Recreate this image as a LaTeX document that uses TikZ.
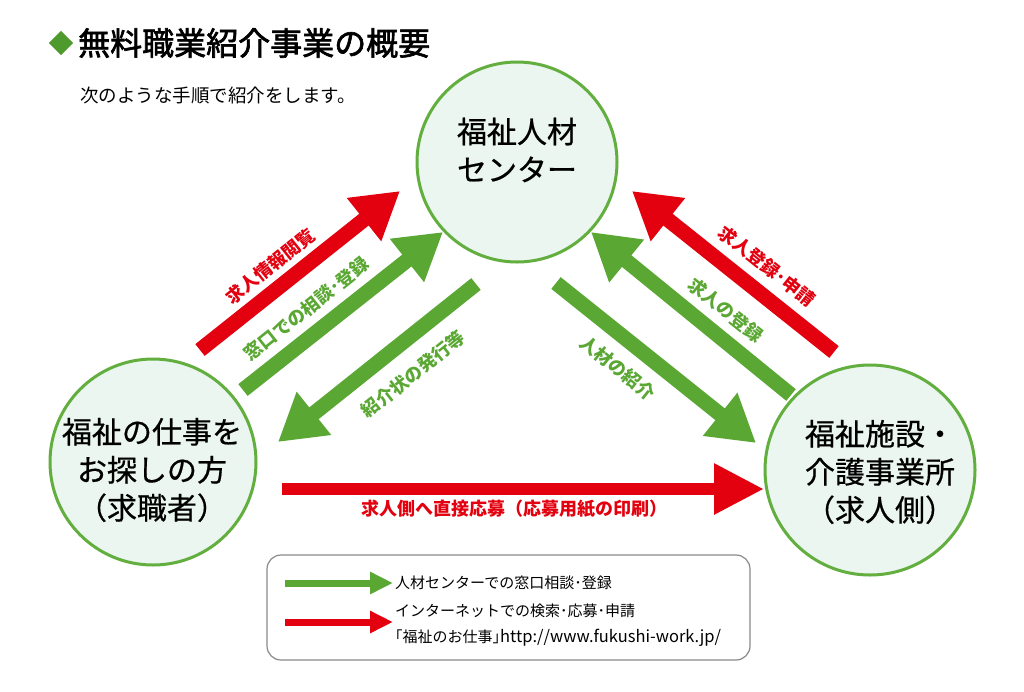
\documentclass[tikz,border=0pt]{standalone}
\usepackage{fontspec}
\setmainfont{Noto Sans CJK JP}
\newfontfamily\medfont[FakeBold=0.6]{Noto Sans CJK JP}
\newfontfamily\heavyfont[FakeBold=2]{Noto Sans CJK JP}
\usetikzlibrary{arrows.meta}
\definecolor{agreen}{HTML}{5AA833}
\definecolor{ared}{HTML}{E3000F}
\definecolor{cgreen}{HTML}{62AE3E}
\definecolor{cfill}{HTML}{EAF6EF}
\definecolor{dgreen}{HTML}{4E9A2C}
\definecolor{lgray}{HTML}{8A8A8A}
\tikzset{
  hub/.style={circle, draw=cgreen, fill=cfill, line width=3pt, minimum size=#1, inner sep=0pt},
  hubtext/.style={align=center, font=\medfont\fontsize{30pt}{38pt}\selectfont, text=black},
  bigarrow/.style={line width=15pt, -{Triangle[width=52pt,length=46pt]}},
  flatarrow/.style={line width=12pt, -{Triangle[width=48pt,length=50pt]}},
  legarrow/.style={line width=7pt, -{Triangle[width=21pt,length=23pt]}},
  lbl/.style={font=\fontsize{18pt}{20pt}\selectfont\bfseries, inner sep=0pt},
  legtext/.style={font=\fontsize{15pt}{26pt}\selectfont, anchor=west, align=left, inner sep=0pt}
}
\begin{document}
\begin{tikzpicture}[x=1pt,y=-1pt]
\useasboundingbox (0,0) rectangle (1024,691);
\fill[white] (0,0) rectangle (1024,691);

% title
\node[fill=dgreen, rotate=45, minimum size=17pt, inner sep=0pt] (dia) at (61,43) {};
\node[anchor=west, font=\heavyfont\fontsize{32pt}{36pt}\selectfont, inner sep=0pt] (title) at (78,43) {無料職業紹介事業の概要};
\node[anchor=west, font=\fontsize{18.5pt}{22pt}\selectfont, inner sep=0pt] (sub) at (80,95) {次のような手順で紹介をします。};

% circles
\node[hub=200pt] (center) at (517,162) {};
\node[hub=206pt] (seeker) at (153,462) {};
\node[hub=210pt] (employer) at (870,470) {};
\node[hubtext] (ct) at (517,150) {福祉人材\\センター};
\node[hubtext] (st) at (152,470) {福祉の仕事を\\お探しの方\\（求職者）};
\node[hubtext] (et) at (880,472) {福祉施設・\\介護事業所\\（求人側）};

% arrow end points
\coordinate (a1s) at (200,350); \coordinate (a1e) at (400,191);
\coordinate (a2s) at (243,390); \coordinate (a2e) at (443,232);
\coordinate (a3s) at (476,284); \coordinate (a3e) at (278,442);
\coordinate (b1s) at (834,352); \coordinate (b1e) at (632,191);
\coordinate (b2s) at (791,395); \coordinate (b2e) at (591,232);
\coordinate (b3s) at (556,283); \coordinate (b3e) at (756,443);
\coordinate (hs) at (282,489); \coordinate (he) at (764,489);

\draw[bigarrow, ared] (a1s) -- (a1e);
\draw[bigarrow, agreen] (a2s) -- (a2e);
\draw[bigarrow, agreen] (a3s) -- (a3e);
\draw[bigarrow, ared] (b1s) -- (b1e);
\draw[bigarrow, agreen] (b2s) -- (b2e);
\draw[bigarrow, agreen] (b3s) -- (b3e);
\draw[flatarrow, ared] (hs) -- (he);

% arrow labels
\node[lbl, text=ared, rotate=38.5] (l1) at (270.5,266) {求人情報閲覧};
\node[lbl, text=agreen, rotate=38.5] (l2) at (306.5,309) {窓口での相談･登録};
\node[lbl, text=agreen, rotate=38.5] (l3) at (413,374) {紹介状の発行等};
\node[lbl, text=ared, rotate=-38.5] (r1) at (767,266) {求人登録･申請};
\node[lbl, text=agreen, rotate=-38.5] (r2) at (726,310) {求人の登録};
\node[lbl, text=agreen, rotate=-38.5] (r3) at (618,368) {人材の紹介};
\node[lbl, text=ared] (h1) at (514,509) {求人側へ直接応募（応募用紙の印刷）};

% legend
\node[draw=lgray, line width=1.2pt, rounded corners=14pt, minimum width=483pt, minimum height=105pt, inner sep=0pt] (legend) at (508.5,607.5) {};
\coordinate (g1s) at (285,583); \coordinate (g1e) at (393,583);
\coordinate (g2s) at (285,622); \coordinate (g2e) at (393,622);
\draw[legarrow, agreen] (g1s) -- (g1e);
\draw[legarrow, ared] (g2s) -- (g2e);
\node[legtext] (lt1) at (395,583) {人材センターでの窓口相談･登録};
\node[legtext] (lt2) at (395,625) {インターネットでの検索･応募･申請\\｢福祉のお仕事｣{\fontsize{16.5pt}{26pt}\selectfont http://www.fukushi-work.jp/}};
\end{tikzpicture}
\end{document}
